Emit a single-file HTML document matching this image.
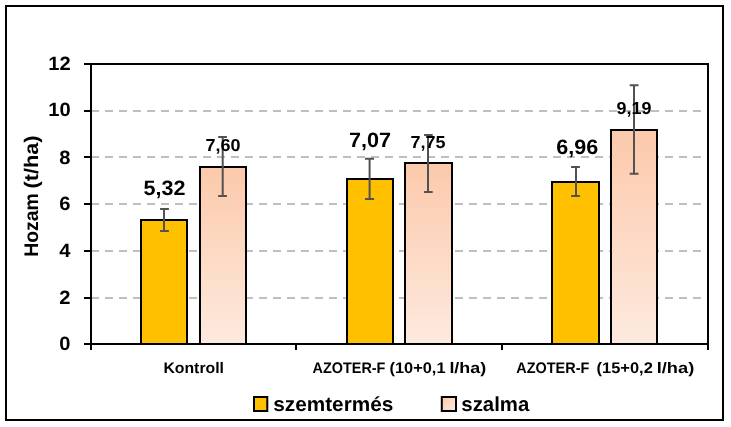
<!DOCTYPE html>
<html>
<head>
<meta charset="utf-8">
<title>Hozam</title>
<style>
html,body{margin:0;padding:0;background:#ffffff;}
body{width:731px;height:427px;overflow:hidden;}
svg{display:block;position:absolute;left:0;top:0;will-change:transform;text-rendering:geometricPrecision;}
text{font-family:"Liberation Sans",sans-serif;font-weight:bold;fill:#000;}
</style>
</head>
<body>
<svg width="731" height="427" viewBox="0 0 731 427">
<defs>
<linearGradient id="sal" x1="0" y1="0" x2="0" y2="1">
<stop offset="0" stop-color="#fcc9ab"/>
<stop offset="1" stop-color="#fdeade"/>
</linearGradient>
<linearGradient id="sal2" x1="0" y1="0" x2="1" y2="1">
<stop offset="0" stop-color="#fcc9ab"/>
<stop offset="1" stop-color="#fdeade"/>
</linearGradient>
</defs>
<rect x="0" y="0" width="731" height="427" fill="#ffffff"/>
<!-- outer frame -->
<rect x="6" y="6" width="717" height="414" fill="#ffffff" stroke="#000" stroke-width="2"/>

<!-- gridlines -->
<g stroke="#bfbfbf" stroke-width="2" stroke-dasharray="8 6" fill="none">
<line x1="91" y1="111" x2="708" y2="111"/>
<line x1="91" y1="157" x2="708" y2="157"/>
<line x1="91" y1="204" x2="708" y2="204"/>
<line x1="91" y1="251" x2="708" y2="251"/>
<line x1="91" y1="298" x2="708" y2="298"/>
</g>

<!-- bars -->
<g stroke="#000" stroke-width="2">
<rect x="141" y="220" width="46" height="124" fill="#ffc000"/>
<rect x="200" y="167" width="46" height="177" fill="url(#sal)"/>
<rect x="347" y="179" width="46" height="165" fill="#ffc000"/>
<rect x="405" y="163" width="47" height="181" fill="url(#sal)"/>
<rect x="552" y="182" width="47" height="162" fill="#ffc000"/>
<rect x="611" y="130" width="46" height="214" fill="url(#sal)"/>
</g>

<!-- plot frame + ticks -->
<g stroke="#000" stroke-width="2" fill="none">
<rect x="91" y="64" width="617" height="280"/>
<path d="M84 64H91M84 111H91M84 157H91M84 204H91M84 251H91M84 298H91M84 344H91"/>
<path d="M91 344V350M296 344V350M502 344V350M708 344V350"/>
</g>

<!-- error bars -->
<g stroke="#525252" stroke-width="2" fill="none">
<path d="M164 209V231M160.1 209H168.9M160.1 231H168.9"/>
<path d="M222.7 136.9V196.1M218.2 136.9H226.9M218.2 196.1H226.9"/>
<path d="M369.6 158.7V199.1M365 158.7H374.1M365 199.1H374.1"/>
<path d="M428 134.9V191.9M424.1 134.9H432.7M424.1 191.9H432.7"/>
<path d="M576 167V196M571.1 167H579.9M571.1 196H579.9"/>
<path d="M634 85.2V173.8M629.7 85.2H638.5M629.7 173.8H638.5"/>
</g>

<!-- y axis labels -->
<g font-size="19.2" text-anchor="end">
<text x="70.6" y="69.8" textLength="22.4" lengthAdjust="spacingAndGlyphs">12</text>
<text x="70.6" y="116.4" textLength="22.4" lengthAdjust="spacingAndGlyphs">10</text>
<text x="70.4" y="163.6" textLength="11.2" lengthAdjust="spacingAndGlyphs">8</text>
<text x="70.4" y="209.8" textLength="11.2" lengthAdjust="spacingAndGlyphs">6</text>
<text x="70.4" y="256.7" textLength="11.2" lengthAdjust="spacingAndGlyphs">4</text>
<text x="70.4" y="304" textLength="11.2" lengthAdjust="spacingAndGlyphs">2</text>
<text x="70.4" y="349.9" textLength="11.2" lengthAdjust="spacingAndGlyphs">0</text>
</g>

<!-- y axis title -->
<g transform="translate(37.7,256.8) rotate(-90)" font-size="19.7">
<text x="0" y="0" textLength="63.6" lengthAdjust="spacingAndGlyphs">Hozam</text>
<text x="68.4" y="0" textLength="53" lengthAdjust="spacingAndGlyphs">(t/ha)</text>
</g>

<!-- data labels -->
<g font-size="20.8" text-anchor="middle">
<text x="164.4" y="195.4" textLength="42" lengthAdjust="spacingAndGlyphs">5,32</text>
<text x="369.9" y="146.7" textLength="42" lengthAdjust="spacingAndGlyphs">7,07</text>
<text x="577.2" y="153.8" textLength="42" lengthAdjust="spacingAndGlyphs">6,96</text>
</g>
<g font-size="17.3" text-anchor="middle">
<text x="223.1" y="151.3" textLength="35" lengthAdjust="spacingAndGlyphs">7,60</text>
<text x="428.1" y="148" textLength="35" lengthAdjust="spacingAndGlyphs">7,75</text>
<text x="634" y="114.1" textLength="35" lengthAdjust="spacingAndGlyphs">9,19</text>
</g>

<!-- category labels -->
<g font-size="15.3">
<text x="163.4" y="372.6" textLength="60.6" lengthAdjust="spacingAndGlyphs">Kontroll</text>
<text x="312.6" y="372.6" textLength="72.8" lengthAdjust="spacingAndGlyphs">AZOTER-F</text>
<text x="389.5" y="372.6" textLength="56" lengthAdjust="spacingAndGlyphs">(10+0,1</text>
<text x="449.4" y="372.6" textLength="36.8" lengthAdjust="spacingAndGlyphs">l/ha)</text>
<text x="516.3" y="372.6" textLength="73" lengthAdjust="spacingAndGlyphs">AZOTER-F</text>
<text x="596.6" y="372.6" textLength="56.2" lengthAdjust="spacingAndGlyphs">(15+0,2</text>
<text x="656.7" y="372.6" textLength="37.6" lengthAdjust="spacingAndGlyphs">l/ha)</text>
</g>

<!-- legend -->
<rect x="254" y="397" width="13.3" height="14" fill="#ffc000" stroke="#000" stroke-width="2"/>
<text x="273.3" y="410.8" font-size="20.3" textLength="120" lengthAdjust="spacingAndGlyphs">szemtermés</text>
<rect x="441.8" y="397" width="14.2" height="14" fill="url(#sal2)" stroke="#000" stroke-width="2"/>
<text x="461.3" y="410.8" font-size="20.3" textLength="68" lengthAdjust="spacingAndGlyphs">szalma</text>
</svg>
</body>
</html>
